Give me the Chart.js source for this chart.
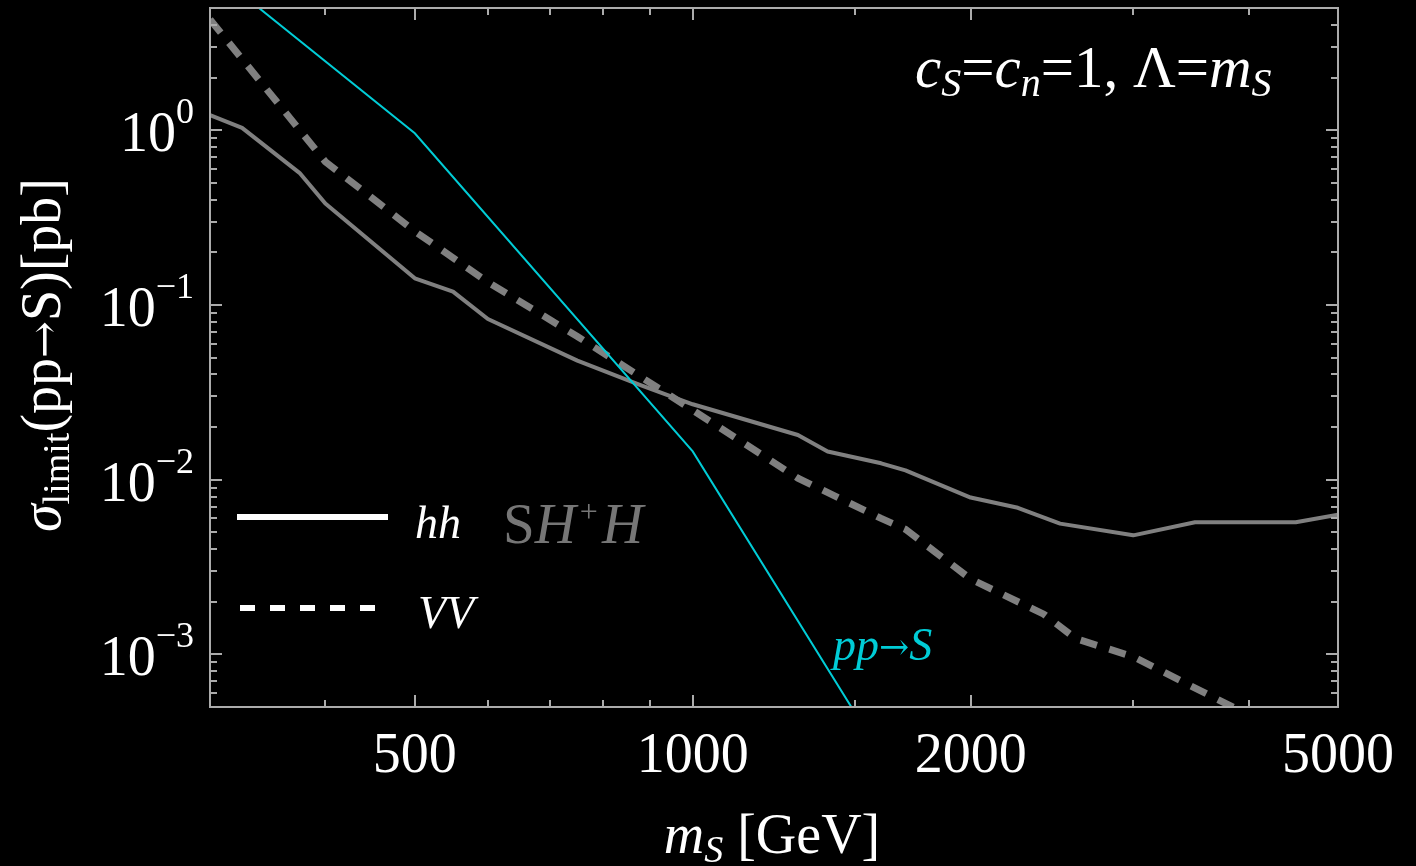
<!DOCTYPE html>
<html>
<head>
<meta charset="utf-8">
<title>sigma limit vs mS</title>
<script src="https://cdn.jsdelivr.net/npm/chart.js@4.4.1/dist/chart.umd.min.js"></script>
<style>
  html, body { margin: 0; padding: 0; background: #000; }
  canvas { display: block; }
</style>
</head>
<body>
<canvas id="limitChart" width="1416" height="866"></canvas>
<script>
// scalar mass [GeV] and cross-section limits [pb]
var massHH = [300, 325, 375, 400, 500, 550, 600, 750, 875, 1000, 1300, 1400, 1600, 1700, 2000, 2250, 2500, 3000, 3500, 4500, 5000];
var sigmaHH = [1.22, 1.03, 0.57, 0.38, 0.142, 0.119, 0.083, 0.048, 0.035, 0.027, 0.018, 0.0145, 0.0124, 0.0113, 0.0079, 0.0069, 0.0056, 0.0048, 0.0057, 0.0057, 0.0063];

var massVV = [300, 400, 500, 600, 750, 1000, 1300, 1600, 1700, 2000, 2400, 2600, 3000, 4000, 5000];
var sigmaVV = [4.3, 0.66, 0.264, 0.135, 0.066, 0.025, 0.0102, 0.006, 0.0052, 0.0027, 0.0017, 0.00123, 0.00097, 0.00045, 0.00024];

// production cross section pp -> S
var massPP = [300, 500, 1000, 1500];
var sigmaPP = [8.4, 0.96, 0.0145, 0.00046];

// frame ticks
var xMajor = [500, 1000, 2000, 5000];
var xMinor = [400, 600, 700, 800, 900, 1500, 3000, 4000];
var xLabels = ["500", "1000", "2000", "5000"];
var yExponents = [0, -1, -2, -3];

var SERIF = '"Liberation Serif", "DejaVu Serif", serif';
var ARROW_FONT = '"DejaVu Serif", serif';
var GRAY = "#808080";
var CYAN = "rgb(0, 204, 214)";

function toPoints(xs, ys) {
  return xs.map(function(x, i) { return { x: x, y: ys[i] }; });
}

// draws a row of text pieces with their own fonts / offsets
function drawRuns(ctx, runs, x, y, align) {
  var total = 0;
  runs.forEach(function(r) {
    ctx.font = r.font;
    r.w = ctx.measureText(r.text).width + (r.gap || 0);
    total += r.w;
  });
  var cx = x;
  if (align === "center") cx = x - total / 2;
  if (align === "right") cx = x - total;
  ctx.textAlign = "left";
  ctx.textBaseline = "alphabetic";
  runs.forEach(function(r) {
    ctx.font = r.font;
    ctx.fillStyle = r.color || "#fff";
    ctx.fillText(r.text, cx + (r.gap || 0) / 2, y + (r.dy || 0));
    cx += r.w;
  });
}

function f(size, style, family) {
  return (style ? style + " " : "") + size + "px " + (family || SERIF);
}

var blackBackground = {
  id: "blackBackground",
  beforeDraw: function(chart) {
    var ctx = chart.ctx;
    ctx.save();
    ctx.fillStyle = "#000";
    ctx.fillRect(0, 0, chart.width, chart.height);
    ctx.restore();
  }
};

var frameAndText = {
  id: "frameAndText",
  afterDatasetsDraw: function(chart) {
    var ctx = chart.ctx;
    var a = chart.chartArea;
    var xs = chart.scales.x, ys = chart.scales.y;
    var major = 12, minor = 7;

    ctx.save();
    ctx.strokeStyle = "#ababab";
    ctx.lineWidth = 2;
    ctx.strokeRect(a.left, a.top, a.right - a.left, a.bottom - a.top);

    ctx.beginPath();
    function xTick(v, len) {
      var px = Math.round(xs.getPixelForValue(v));
      ctx.moveTo(px, a.bottom); ctx.lineTo(px, a.bottom - len);
      ctx.moveTo(px, a.top); ctx.lineTo(px, a.top + len);
    }
    function yTick(v, len) {
      var py = Math.round(ys.getPixelForValue(v));
      ctx.moveTo(a.left, py); ctx.lineTo(a.left + len, py);
      ctx.moveTo(a.right, py); ctx.lineTo(a.right - len, py);
    }
    xMajor.forEach(function(v) { xTick(v, major); });
    xMinor.forEach(function(v) { xTick(v, minor); });
    for (var k = -4; k <= 0; k++) {
      for (var m = 1; m <= 9; m++) {
        var v = m * Math.pow(10, k);
        if (v < ys.min || v > ys.max) continue;
        yTick(v, m === 1 ? major : minor);
      }
    }
    ctx.stroke();

    // tick labels
    xMajor.forEach(function(v, i) {
      drawRuns(ctx, [{ text: xLabels[i], font: f(56) }], xs.getPixelForValue(v), 772, "center");
    });
    yExponents.forEach(function(e) {
      var py = ys.getPixelForValue(Math.pow(10, e));
      var exp = e < 0 ? "\u2212" + (-e) : String(e);
      drawRuns(ctx, [
        { text: "10", font: f(56), dy: 21 },
        { text: exp, font: f(36), dy: -7 }
      ], a.left - 16, py, "right");
    });

    // axis titles
    drawRuns(ctx, [
      { text: "m", font: f(56, "italic") },
      { text: "S", font: f(38, "italic"), dy: 9 },
      { text: " [GeV]", font: f(56) }
    ], 772, 853, "center");

    ctx.save();
    ctx.translate(60, 355);
    ctx.rotate(-Math.PI / 2);
    drawRuns(ctx, [
      { text: "\u03C3", font: f(56, "italic") },
      { text: "limit", font: f(38), dy: 9 },
      { text: "(pp", font: f(56) },
      { text: "\u2192", font: f(44, "", ARROW_FONT), dy: -1 },
      { text: "S)[pb]", font: f(56) }
    ], 0, 0, "center");
    ctx.restore();

    // parameter note
    drawRuns(ctx, [
      { text: "c", font: f(59, "italic") },
      { text: "S", font: f(40, "italic"), dy: 9 },
      { text: "=", font: f(59) },
      { text: "c", font: f(59, "italic") },
      { text: "n", font: f(40, "italic"), dy: 9 },
      { text: "=1, \u039B=", font: f(59) },
      { text: "m", font: f(59, "italic") },
      { text: "S", font: f(40, "italic"), dy: 9 }
    ], 915, 87, "left");

    // legend
    ctx.strokeStyle = "#fff";
    ctx.lineWidth = 6;
    ctx.lineCap = "butt";
    ctx.beginPath();
    ctx.moveTo(237, 517); ctx.lineTo(388, 517);
    ctx.stroke();
    ctx.setLineDash([15, 15]);
    ctx.beginPath();
    ctx.moveTo(240, 608); ctx.lineTo(383, 608);
    ctx.stroke();
    ctx.setLineDash([]);

    drawRuns(ctx, [{ text: "hh", font: f(46, "italic") }], 415, 538, "left");
    drawRuns(ctx, [{ text: "VV", font: f(46, "italic") }], 418, 628, "left");
    drawRuns(ctx, [
      { text: "S", font: f(57), color: "#767676" },
      { text: "H", font: f(57, "italic"), color: "#767676" },
      { text: "+", font: f(32), color: "#767676", dy: -21, gap: 8 },
      { text: "H", font: f(57, "italic"), color: "#767676" }
    ], 503, 543, "left");
    drawRuns(ctx, [
      { text: "pp", font: f(46, "italic"), color: CYAN },
      { text: "\u2192", font: f(36, "", ARROW_FONT), color: CYAN, dy: -1 },
      { text: "S", font: f(46, "italic"), color: CYAN }
    ], 833, 660, "left");

    ctx.restore();
  }
};

var ctx = document.getElementById("limitChart").getContext("2d");
var limitChart = new Chart(ctx, {
  type: "line",
  data: {
    datasets: [
      {
        label: "pp\u2192S",
        data: toPoints(massPP, sigmaPP),
        borderColor: CYAN,
        borderWidth: 2,
        pointRadius: 0,
        clip: 0
      },
      {
        label: "hh",
        data: toPoints(massHH, sigmaHH),
        borderColor: GRAY,
        borderWidth: 4,
        pointRadius: 0,
        borderJoinStyle: "round",
        clip: 0
      },
      {
        label: "VV",
        data: toPoints(massVV, sigmaVV),
        borderColor: GRAY,
        borderWidth: 7,
        borderDash: [17, 13],
        borderCapStyle: "butt",
        pointRadius: 0,
        clip: 0
      }
    ]
  },
  options: {
    responsive: false,
    animation: false,
    layout: { padding: { left: 210, right: 78, top: 8, bottom: 159 } },
    scales: {
      x: { type: "logarithmic", min: 300, max: 5000, display: false },
      y: { type: "logarithmic", min: 0.0005, max: 5, display: false }
    },
    elements: { line: { tension: 0 } },
    plugins: { legend: { display: false }, tooltip: { enabled: false } }
  },
  plugins: [blackBackground, frameAndText]
});
</script>
</body>
</html>
